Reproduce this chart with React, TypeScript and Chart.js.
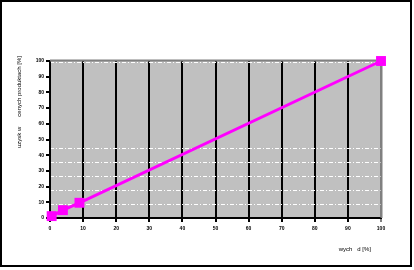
import React, { useEffect, useRef } from "react";
import { Chart, registerables } from "chart.js";
Chart.register(...registerables);

const xValues = [0.5, 3.9, 8.9, 100];
const yValues = [1.2, 5, 9.7, 100];
const dashedLevels = [8.5, 17.4, 26.3, 35.2, 44.1, 98.8];
const yTitle = "uzysk w      cenych produktach [%]";
const xTitle = "wych   d [%]";

export default function App() {
  const ref = useRef<HTMLCanvasElement>(null);
  useEffect(() => {
    const framePlugin = {
      id: "frame",
      beforeDraw(chart: any) {
        const { ctx, chartArea: a } = chart;
        ctx.save();
        ctx.fillStyle = "#ffffff";
        ctx.fillRect(0, 0, chart.width, chart.height);
        ctx.fillStyle = "#c0c0c0";
        ctx.fillRect(a.left, a.top, a.right - a.left, a.bottom - a.top);
        ctx.restore();
      },
      beforeDatasetsDraw(chart: any) {
        const { ctx, chartArea: a } = chart;
        ctx.save();
        ctx.strokeStyle = "#808080";
        ctx.lineWidth = 2;
        ctx.beginPath();
        ctx.moveTo(a.left, a.top - 0.5);
        ctx.lineTo(a.right + 1, a.top - 0.5);
        ctx.moveTo(a.right + 0.5, a.top - 1);
        ctx.lineTo(a.right + 0.5, a.bottom);
        ctx.stroke();
        ctx.restore();
      },
      afterDraw(chart: any) {
        const { ctx } = chart;
        ctx.save();
        ctx.strokeStyle = "#000";
        ctx.lineWidth = 2;
        ctx.strokeRect(1, 1, 410, 265);
        ctx.fillStyle = "#000";
        ctx.font = "6px 'Liberation Sans', Arial, sans-serif";
        ctx.textAlign = "center";
        ctx.textBaseline = "middle";
        ctx.save();
        ctx.translate(19, 102);
        ctx.rotate(-Math.PI / 2);
        ctx.fillText(yTitle, 0, 0);
        ctx.restore();
        ctx.textAlign = "right";
        ctx.fillText(xTitle, 371, 249);
        ctx.restore();
      },
    };

    const tickFont = { size: 5, weight: "bold" as const, family: "'Liberation Sans', Arial, sans-serif" };

    const chart = new Chart(ref.current!, {
      type: "scatter",
      data: {
        datasets: [
          {
            data: xValues.map((x, i) => ({ x, y: yValues[i] })),
            showLine: true,
            borderColor: "#ff00ff",
            backgroundColor: "#ff00ff",
            borderWidth: 3,
            pointStyle: "rect",
            pointRadius: 7,
            pointBorderWidth: 0,
            clip: false as any,
          },
        ],
      },
      options: {
        responsive: false,
        animation: false,
        events: [],
        layout: { padding: { left: 0, top: 61, right: 33, bottom: 0 } },
        plugins: { legend: { display: false }, tooltip: { enabled: false } },
        scales: {
          x: {
            type: "linear",
            min: 0,
            max: 100,
            ticks: { stepSize: 10, color: "#000", font: tickFont, padding: 4, maxRotation: 0 },
            grid: {
              color: (c: any) => (c.tick && c.tick.value === 100 ? "#808080" : "#000000"),
              lineWidth: 2,
              tickLength: 4,
            },
            border: { color: "#000", width: 2 },
            afterFit: (s: any) => {
              s.height = 52;
            },
          },
          y: {
            type: "linear",
            min: 0,
            max: 100,
            ticks: { stepSize: 10, color: "#000", font: tickFont, padding: 2 },
            grid: { drawOnChartArea: false, color: "#000", lineWidth: 2, tickLength: 4 },
            border: { color: "#000", width: 2 },
            afterFit: (s: any) => {
              s.width = 50;
            },
          },
          y2: {
            type: "linear",
            position: "right",
            min: 0,
            max: 100,
            afterBuildTicks: (s: any) => {
              s.ticks = dashedLevels.map((v) => ({ value: v }));
            },
            ticks: { display: false },
            grid: { color: "#ffffff", lineWidth: 1, drawTicks: false },
            border: { display: false, dash: [4, 2, 1, 2] },
            afterFit: (s: any) => {
              s.width = 0;
            },
          },
        },
      },
      plugins: [framePlugin],
    });
    return () => chart.destroy();
  }, []);

  return (
    <div style={{ position: "absolute", left: 0, top: 0, width: 414, height: 270 }}>
      <canvas ref={ref} width={414} height={270} />
    </div>
  );
}
